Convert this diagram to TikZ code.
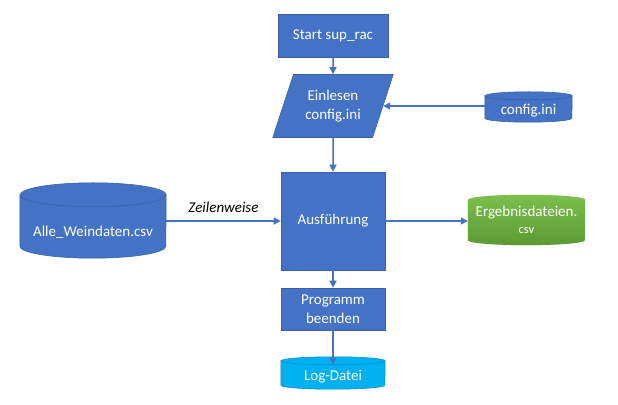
\documentclass[tikz,border=0pt]{standalone}
\usepackage{fontspec}
\setmainfont{Carlito}
\usetikzlibrary{shapes.geometric,backgrounds,arrows.meta,calc}
\definecolor{bx}{HTML}{4472C4}
\definecolor{bxd}{HTML}{3A62AC}
\definecolor{cy}{HTML}{00B0F0}
\definecolor{cyd}{HTML}{0A8FC8}
\definecolor{gnl}{HTML}{7CBF4C}
\definecolor{gnd}{HTML}{5C9A33}
% name, width, r, fill, draw
\newcommand\mycyl[5]{%
 \begin{scope}[on background layer]
 \filldraw[fill=#4,draw=#5,line width=0.6pt]
   ([yshift=#3pt]#1.north west) -- ([yshift=#3pt]#1.south west)
   arc[start angle=180,end angle=360,x radius=#2pt/2,y radius=#3pt]
   -- ([yshift=#3pt]#1.north east)
   arc[start angle=0,end angle=180,x radius=#2pt/2,y radius=#3pt] -- cycle;
 \draw[draw=#5,line width=0.6pt] ([yshift=#3pt]#1.north west)
   arc[start angle=180,end angle=360,x radius=#2pt/2,y radius=#3pt];
 \end{scope}}
\tikzset{
  txt/.style={text=white,font=\fontsize{15}{19.5}\selectfont,align=center,inner sep=0pt},
  procbox/.style={txt,rectangle,fill=bx,draw=bxd,line width=0.6pt},
  iobox/.style={txt,trapezium,trapezium left angle=66,trapezium right angle=114,
     trapezium stretches=true,fill=bx,draw=bxd,line width=0.6pt},
  cylnode/.style={txt},
  arr/.style={draw=bx,line width=1.5pt,-{Triangle[length=7pt,width=7pt]}},
}
\begin{document}
\begin{tikzpicture}[x=1pt,y=1pt]
\useasboundingbox (0,0) rectangle (618,404);
\begin{scope}[on background layer]
\fill[white] (0,0) rectangle (618,404);
\end{scope}
\node[procbox,minimum width=110pt,minimum height=43pt] (start) at (333,368.5) {Start sup\_rac};
\node[iobox,minimum width=121pt,minimum height=63pt] (para) at (333,298) {Einlesen\\config.ini};
\node[procbox,minimum width=104pt,minimum height=98pt] (aus) at (333,183) {Ausführung};
\node[procbox,minimum width=104pt,minimum height=42pt] (prog) at (333,95) {Programm\\beenden};
\node[cylnode,minimum width=146pt,minimum height=51pt] (alle) at (93,171.5) {Alle\_Weindaten.csv};
\mycyl{alle}{146}{12}{bx}{bxd}
\node[cylnode,minimum width=87pt,minimum height=22pt] (cfg) at (528.5,293) {config.ini};
\mycyl{cfg}{87}{4}{bx}{bxd}
\node[cylnode,minimum width=104pt,minimum height=24pt] (log) at (333,27) {Log-Datei};
\mycyl{log}{104}{4}{cy}{cyd}
\node[txt,minimum width=117pt,minimum height=50pt] (erg) at (526.5,184) {Ergebnisdateien.\\[-3pt]{\fontsize{12.5}{14}\selectfont csv}};
\begin{scope}[on background layer]
 \fill[black!25,xshift=1.5pt,yshift=-2pt]
   ([yshift=-5pt]erg.north west) -- ([yshift=5pt]erg.south west)
   arc[start angle=180,end angle=360,x radius=58.5pt,y radius=5pt]
   -- ([yshift=-5pt]erg.north east)
   arc[start angle=0,end angle=180,x radius=58.5pt,y radius=5pt] -- cycle;
 \shade[top color=gnl,bottom color=gnd]
   ([yshift=-5pt]erg.north west) -- ([yshift=5pt]erg.south west)
   arc[start angle=180,end angle=360,x radius=58.5pt,y radius=5pt]
   -- ([yshift=-5pt]erg.north east)
   arc[start angle=0,end angle=180,x radius=58.5pt,y radius=5pt] -- cycle;
\end{scope}
\draw[arr] (start) -- (para);
\draw[arr] (cfg.west |- para.east) -- (para.east);
\draw[arr] (para) -- (aus);
\draw[arr] (alle.east |- aus.west) -- node[above=4pt,font=\fontsize{15}{17}\selectfont\itshape] (zl) {Zeilenweise} (aus.west);
\draw[arr] (aus.east) -- (aus.east -| erg.west);
\draw[arr] (aus) -- (prog);
\draw[arr] (prog) -- (log);
\end{tikzpicture}
\end{document}
